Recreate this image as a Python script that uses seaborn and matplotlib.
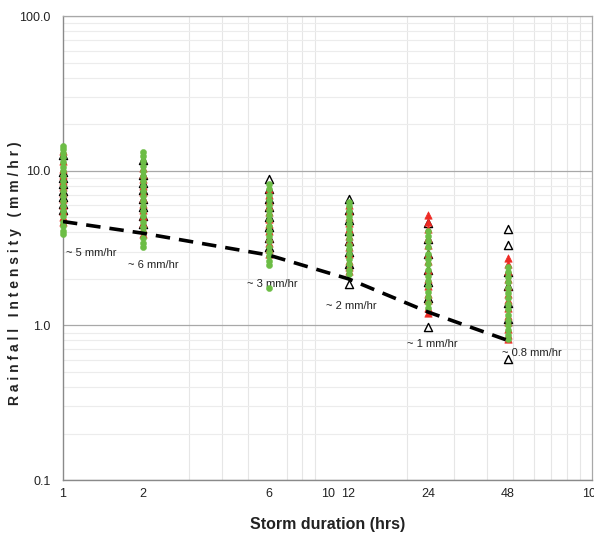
import numpy as np
import pandas as pd
import matplotlib
matplotlib.use("Agg")
import matplotlib.pyplot as plt
import matplotlib.ticker as mticker
import seaborn as sns

# ---- data ----
durations = [1, 2, 6, 12, 24, 48]

black_vals = {
    1: [12.7, 9.8, 9.0, 8.2, 7.4, 6.8, 6.1, 5.6],
    2: [11.8, 9.4, 8.4, 7.5, 6.6, 5.8, 5.1, 4.5],
    6: [8.8, 7.6, 6.6, 5.8, 5.0, 4.3, 3.7, 3.2],
    12: [6.6, 5.6, 4.8, 4.1, 3.5, 3.0, 2.5, 1.85],
    24: [4.6, 3.6, 2.9, 2.3, 1.9, 1.5, 0.97],
    48: [4.2, 3.3, 2.2, 1.8, 1.4, 1.1, 0.61],
}
red_vals = {
    1: [13.5, 11.5, 10.2, 9.4, 8.6, 7.9, 7.2, 6.6, 6.0, 5.5, 5.0, 4.7],
    2: [10.5, 9.6, 8.8, 8.0, 7.3, 6.7, 6.1, 5.6, 5.1, 4.6, 4.2, 3.9],
    6: [7.6, 7.0, 6.4, 5.9, 5.4, 4.9, 4.5, 4.1, 3.7, 3.4, 3.1, 2.9],
    12: [6.0, 5.5, 5.0, 4.6, 4.2, 3.8, 3.5, 3.2, 2.9, 2.6, 2.4, 2.25],
    24: [5.2, 4.7, 4.2, 3.7, 3.3, 2.9, 2.6, 2.3, 2.0, 1.8, 1.6, 1.45, 1.3, 1.2],
    48: [2.75, 2.5, 2.25, 2.0, 1.8, 1.6, 1.45, 1.3, 1.15, 1.05, 0.95, 0.87, 0.82],
}
green_vals = {
    1: [14.5, 13.8, 13.0, 12.2, 11.4, 10.6, 9.9, 9.2, 8.6, 8.0, 7.4, 6.9, 6.4,
        5.9, 5.5, 5.1, 4.7, 4.4, 4.1, 3.9],
    2: [13.3, 12.4, 11.6, 10.8, 10.0, 9.3, 8.6, 8.0, 7.4, 6.9, 6.4, 5.9, 5.5,
        5.1, 4.7, 4.3, 4.0, 3.7, 3.4, 3.2],
    6: [8.2, 7.6, 7.0, 6.5, 6.0, 5.6, 5.2, 4.8, 4.4, 4.1, 3.8, 3.5, 3.2, 3.0,
        2.8, 2.6, 2.45, 1.74],
    12: [6.3, 5.9, 5.5, 5.1, 4.8, 4.5, 4.2, 3.9, 3.6, 3.3, 3.1, 2.9, 2.7, 2.5,
         2.3, 2.15],
    24: [4.1, 3.8, 3.5, 3.2, 2.9, 2.7, 2.5, 2.3, 2.1, 1.95, 1.8, 1.65, 1.52,
         1.4, 1.29],
    48: [2.38, 2.2, 2.05, 1.9, 1.75, 1.62, 1.5, 1.38, 1.27, 1.17, 1.08, 1.0,
         0.93, 0.87, 0.82],
}

trend_values = [4.7, 3.95, 2.85, 2.0, 1.22, 0.8]
trend_labels = ["~ 5 mm/hr", "~ 6 mm/hr", "~ 3 mm/hr", "~ 2 mm/hr",
                "~ 1 mm/hr", "~ 0.8 mm/hr"]
label_pos_x = [1.03, 1.76, 4.95, 9.83, 20.0, 45.8]
label_pos_y = [2.93, 2.45, 1.85, 1.33, 0.764, 0.668]

x_ticks = [1, 2, 6, 10, 12, 24, 48, 100]
y_ticks = [0.1, 1, 10, 100]
y_tick_labels = ["0.1", "1.0", "10.0", "100.0"]


def to_frame(d):
    rows = [(k, v) for k in durations for v in d[k]]
    return pd.DataFrame(rows, columns=["duration", "intensity"])


df_black = to_frame(black_vals)
df_red = to_frame(red_vals)
df_green = to_frame(green_vals)
df_trend = pd.DataFrame({"duration": durations, "intensity": trend_values})

# ---- plotting ----
sns.set_style("white")
plt.rcParams["font.family"] = ["Liberation Sans", "DejaVu Sans"]

fig = plt.figure(figsize=(5.94, 5.40), dpi=100)
ax = fig.add_axes([0.106, 0.111, 0.891, 0.859])

ax.set_xscale("log")
ax.set_yscale("log")
ax.set_xlim(1, 100)
ax.set_ylim(0.1, 100)

ax.xaxis.set_major_locator(mticker.FixedLocator(x_ticks))
ax.xaxis.set_major_formatter(mticker.FixedFormatter([str(t) for t in x_ticks]))
ax.xaxis.set_minor_locator(mticker.LogLocator(base=10, subs=np.arange(1, 10)))
ax.xaxis.set_minor_formatter(mticker.NullFormatter())
ax.yaxis.set_major_locator(mticker.FixedLocator(y_ticks))
ax.yaxis.set_major_formatter(mticker.FixedFormatter(y_tick_labels))
ax.yaxis.set_minor_locator(mticker.LogLocator(base=10, subs=np.arange(2, 10)))
ax.yaxis.set_minor_formatter(mticker.NullFormatter())

ax.grid(False)
ax.xaxis.grid(True, which="minor", color="#e6e6e6", linewidth=0.8)
ax.yaxis.grid(True, which="minor", color="#ececec", linewidth=0.8)
ax.yaxis.grid(True, which="major", color="#a8a8a8", linewidth=0.9)
ax.set_axisbelow(True)

sns.scatterplot(data=df_black, x="duration", y="intensity", ax=ax,
                marker="^", s=34, facecolor="white", edgecolor="black",
                linewidth=1.0, zorder=3, clip_on=False)
sns.scatterplot(data=df_red, x="duration", y="intensity", ax=ax,
                marker="^", s=28, color="#ee2a24", edgecolor="#ee2a24",
                linewidth=0.5, zorder=4, clip_on=False)
sns.scatterplot(data=df_green, x="duration", y="intensity", ax=ax,
                marker="o", s=20, color="#6cbd45", edgecolor="#6cbd45",
                linewidth=0.3, zorder=5, clip_on=False)
sns.lineplot(data=df_trend, x="duration", y="intensity", ax=ax,
             color="black", linewidth=2.6, linestyle=(0, (4, 2.5)), zorder=6)

for lx, ly, t in zip(label_pos_x, label_pos_y, trend_labels):
    ax.text(lx, ly, t, fontsize=8, color="#222222", ha="left", va="center")

for side in ["left", "bottom"]:
    ax.spines[side].set_color("#8a8a8a")
    ax.spines[side].set_linewidth(1.0)
for side in ["top", "right"]:
    ax.spines[side].set_color("#a8a8a8")
    ax.spines[side].set_linewidth(0.9)

ax.tick_params(axis="both", which="major", length=4, width=0.8, color="#8a8a8a",
               labelsize=9, labelcolor="#222222", pad=5)
ax.tick_params(axis="both", which="minor", length=0)
ax.tick_params(axis="x", which="major", length=0, pad=6)

ax.set_xlabel("Storm duration (hrs)", fontsize=11.5, fontweight="bold",
              color="#222222", labelpad=12)
ax.set_ylabel("R a i n f a l l   I n t e n s i t y   ( m m / h r )",
              fontsize=10, fontweight="bold", color="#222222")
ax.yaxis.set_label_coords(-0.077, 0.445)

fig.savefig("out.png", dpi=100)
